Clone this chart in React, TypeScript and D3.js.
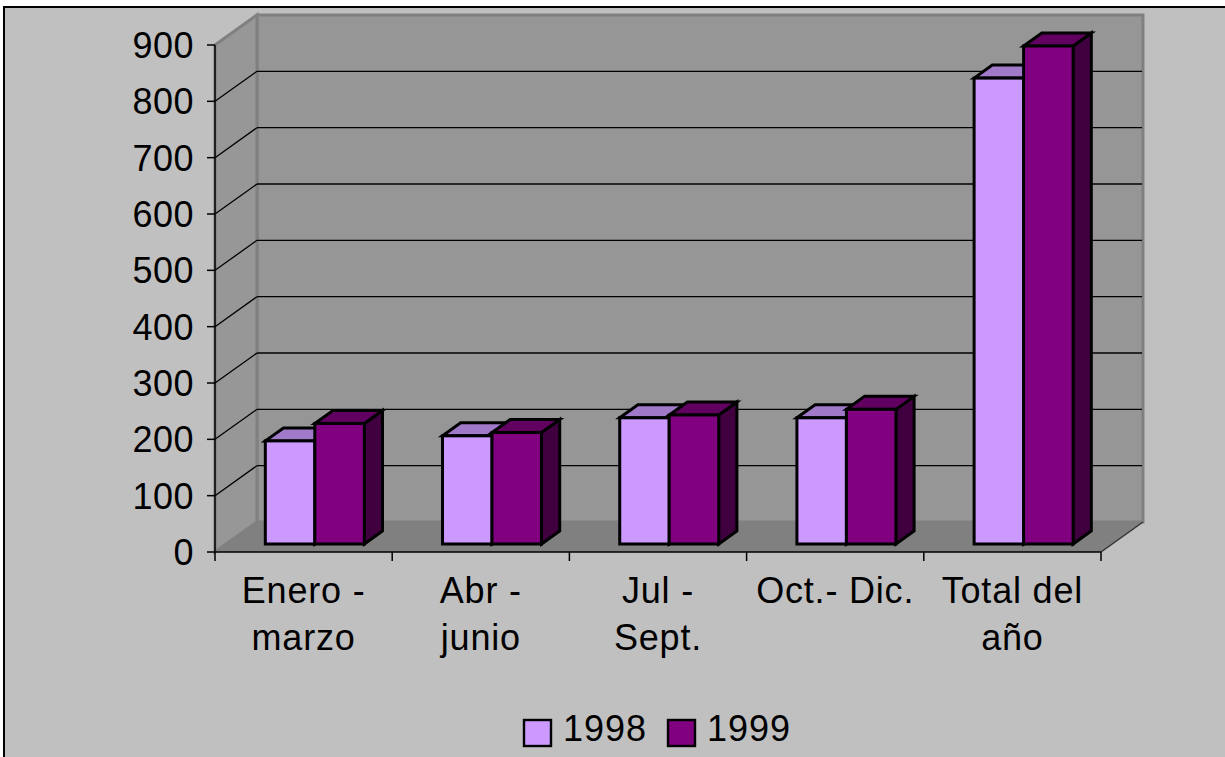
import * as d3 from 'd3';

// values
const categories = ['Enero - marzo', 'Abr - junio', 'Jul - Sept.', 'Oct.- Dic.', 'Total del año'];
const categoryLines = [['Enero -', 'marzo'], ['Abr -', 'junio'], ['Jul -', 'Sept.'], ['Oct.- Dic.'], ['Total del', 'año']];
const seriesNames = ['1998', '1999'];
const values1998 = [183, 192, 224, 224, 827];
const values1999 = [214, 198, 229, 239, 884];
const yTicks = [0, 100, 200, 300, 400, 500, 600, 700, 800, 900];

const W = 1225;
const H = 757;
const front = { left: 215, right: 1101, top: 45, bottom: 552 };
const depth = { dx: 42, dy: -30 };
const barFront = 0.267; // bar front face, share of floor depth
const barDepth = 0.433;

const colors = {
  '1998': { front: '#cc99ff', top: '#a07ac8', side: '#7a5c99' },
  '1999': { front: '#800080', top: '#620062', side: '#400040' },
};

const font = '"Liberation Sans", Arial, sans-serif';

export default function App() {
  const x0 = d3.scaleBand<string>().domain(categories).range([front.left, front.right]).padding(0);
  const x1 = d3.scaleBand<string>().domain(seriesNames).range([0, x0.bandwidth()]).paddingInner(0).paddingOuter(0.79);
  const y = d3.scaleLinear().domain([0, 900]).range([front.bottom, front.top]);

  const bx = depth.dx * barFront;
  const by = depth.dy * barFront;
  const bdx = depth.dx * barDepth;
  const bdy = depth.dy * barDepth;

  const pts = (p: [number, number][]) => p.map((d) => d.join(',')).join(' ');
  const backL = front.left + depth.dx;
  const backR = front.right + depth.dx;

  const series = [
    { name: '1998', vals: values1998 },
    { name: '1999', vals: values1999 },
  ];

  return (
    <svg width={W} height={H} style={{ position: 'absolute', left: 0, top: 0 }} fontFamily={font}>
      <rect x={0} y={0} width={W} height={H} fill="#fff" />
      <rect x={4} y={7} width={W + 10} height={H + 10} fill="#c0c0c0" stroke="#000" strokeWidth={2} />

      {/* walls and floor */}
      <polygon
        points={pts([[backL, y(900) + depth.dy], [backR, y(900) + depth.dy], [backR, y(0) + depth.dy], [backL, y(0) + depth.dy]])}
        fill="#969696" stroke="#808080" strokeWidth={3}
      />
      <polygon
        points={pts([[front.left, y(900)], [backL, y(900) + depth.dy], [backL, y(0) + depth.dy], [front.left, y(0)]])}
        fill="#979797" stroke="#808080" strokeWidth={3}
      />
      <polygon
        points={pts([[front.left, y(0)], [backL, y(0) + depth.dy], [backR, y(0) + depth.dy], [front.right, y(0)]])}
        fill="#808080"
      />
      <line x1={front.right} y1={y(0)} x2={backR} y2={y(0) + depth.dy} stroke="#333" strokeWidth={1.5} />

      {/* gridlines */}
      {yTicks.filter((t) => t > 0 && t < 900).map((t) => (
        <g key={t} stroke="#000" strokeWidth={1.3}>
          <line x1={front.left} y1={y(t)} x2={backL} y2={y(t) + depth.dy} />
          <line x1={backL} y1={y(t) + depth.dy} x2={backR - 1} y2={y(t) + depth.dy} />
        </g>
      ))}

      {/* bars */}
      {categories.map((c, i) => (
        <g key={c} stroke="#000" strokeWidth={3} strokeLinejoin="miter">
          {series.map((s) => {
            const xl = (x0(c) as number) + (x1(s.name) as number) + bx;
            const xr = xl + x1.bandwidth();
            const yt = y(s.vals[i]) + by;
            const yb = y(0) + by;
            const col = colors[s.name as '1998' | '1999'];
            return (
              <g key={s.name}>
                <polygon points={pts([[xr, yt], [xr + bdx, yt + bdy], [xr + bdx, yb + bdy], [xr, yb]])} fill={col.side} />
                <polygon points={pts([[xl, yt], [xl + bdx, yt + bdy], [xr + bdx, yt + bdy], [xr, yt]])} fill={col.top} />
                <rect x={xl} y={yt} width={xr - xl} height={yb - yt} fill={col.front} />
              </g>
            );
          })}
        </g>
      ))}

      {/* axes */}
      <line x1={front.left} y1={front.top} x2={front.left} y2={front.bottom} stroke="#000" strokeWidth={1.5} />
      <line x1={front.left} y1={front.bottom} x2={front.right} y2={front.bottom} stroke="#000" strokeWidth={1.5} />
      {yTicks.map((t) => (
        <g key={t}>
          <line x1={front.left - 8} y1={y(t)} x2={front.left} y2={y(t)} stroke="#000" strokeWidth={1.5} />
          <text x={194} y={y(t)} dy="0.36em" textAnchor="end" fontSize={36} fill="#000" letterSpacing={0.5}>{t}</text>
        </g>
      ))}
      {[...categories.map((c) => x0(c) as number), front.right].map((xv, i) => (
        <line key={i} x1={xv} y1={front.bottom} x2={xv} y2={front.bottom + 9} stroke="#000" strokeWidth={1.5} />
      ))}
      {categories.map((c, i) => (
        <text key={c} x={(x0(c) as number) + x0.bandwidth() / 2} textAnchor="middle" fontSize={36} fill="#000" letterSpacing={0.8}>
          {categoryLines[i].map((l, j) => (
            <tspan key={j} x={(x0(c) as number) + x0.bandwidth() / 2} y={603 + j * 47}>{l}</tspan>
          ))}
        </text>
      ))}

      {/* legend */}
      {seriesNames.map((s, i) => (
        <g key={s} transform={`translate(${524 + i * 144},720)`}>
          <rect x={0} y={0} width={27} height={26} fill={colors[s as '1998' | '1999'].front} stroke="#000" strokeWidth={2.4} />
          <text x={39} y={21} fontSize={36} fill="#000" letterSpacing={1}>{s}</text>
        </g>
      ))}
    </svg>
  );
}
